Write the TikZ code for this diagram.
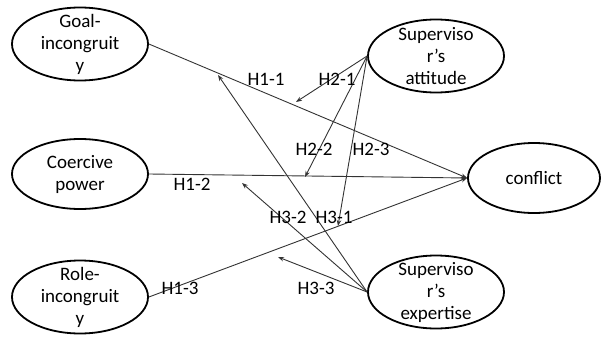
\documentclass[tikz,border=0pt]{standalone}
\usepackage{fontspec}
\setmainfont{Carlito}
\usetikzlibrary{shapes.geometric,arrows.meta}

\tikzset{
  latent/.style={ellipse, draw, line width=1.8pt, minimum width=136pt, minimum height=73pt, inner sep=0pt},
  txt/.style={align=center, inner sep=0pt, font=\fontsize{19}{22}\selectfont},
  hyp/.style={draw=black!80, line width=0.9pt, -{Stealth[length=6pt,width=4.5pt]}},
}

\begin{document}
\begin{tikzpicture}[x=1pt,y=-1pt]
    \useasboundingbox (0,0) rectangle (602,337);

    % Draw Constructs
    % -- left side
    \node[latent, label={[txt]center:Goal-\\incongruit\\y}] (goal) at (80,44) {};
    \node[latent, minimum height=70pt, label={[txt]center:Coercive\\power}] (coercive) at (80,174) {};
    \node[latent, label={[txt]center:Role-\\incongruit\\y}] (role) at (80,297) {};

    % -- right side
    \node[latent, label={[txt]center:Superviso\\r’s\\attitude}] (attitude) at (436,56) {};
    \node[latent, minimum width=132pt, minimum height=70pt, label={[txt]center:conflict}] (conflict) at (534,178) {};
    \node[latent, label={[txt]center:Superviso\\r’s\\expertise}] (expertise) at (436,292) {};

    % Direct Effects
    \draw[hyp] (goal.east) -- (conflict.west);
    \draw[hyp] (coercive.east) -- (conflict.west);
    \draw[hyp] (role.east) -- (conflict.west);

    % Moderator Targets (on the direct paths)
    \coordinate (a1) at (296,102);
    \coordinate (a2) at (305,177);
    \coordinate (a3) at (338,226);
    \coordinate (e1) at (218,75);
    \coordinate (e2) at (242,183);
    \coordinate (e3) at (278,257);

    % Moderating Effects
    \draw[hyp] (attitude.west) -- (a1);
    \draw[hyp] (attitude.west) -- (a2);
    \draw[hyp] (attitude.west) -- (a3);
    \draw[hyp] (expertise.west) -- (e1);
    \draw[hyp] (expertise.west) -- (e2);
    \draw[hyp] (expertise.west) -- (e3);

    % Hypothesis Labels
    \node[txt] (h11) at (266,79) {H1-1};
    \node[txt] (h12) at (192,184) {H1-2};
    \node[txt] (h13) at (180,288) {H1-3};
    \node[txt] (h21) at (337,79) {H2-1};
    \node[txt] (h22) at (314,149) {H2-2};
    \node[txt] (h23) at (371,149) {H2-3};
    \node[txt] (h31) at (334,217) {H3-1};
    \node[txt] (h32) at (288,217) {H3-2};
    \node[txt] (h33) at (316,288) {H3-3};
\end{tikzpicture}
\end{document}
